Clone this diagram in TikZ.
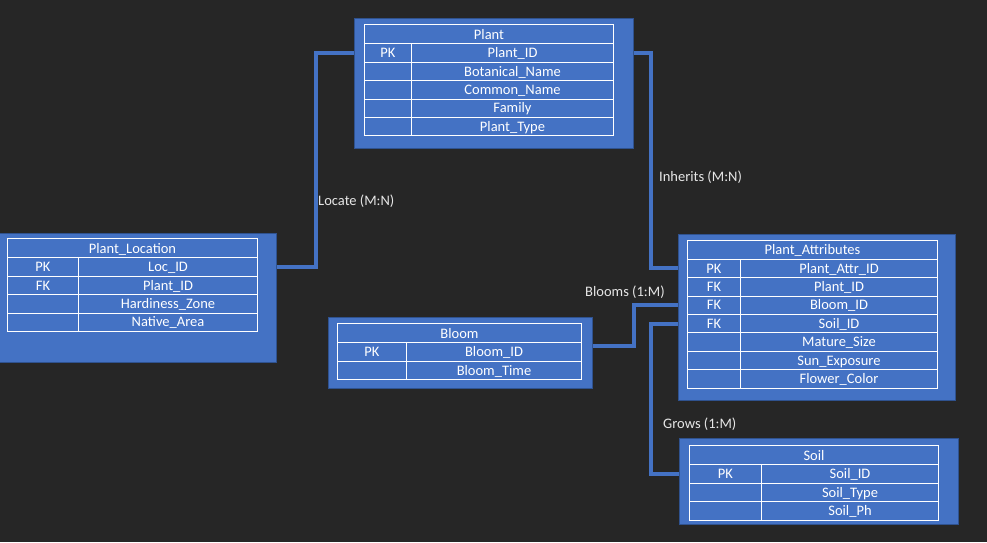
\documentclass[tikz,border=0pt]{standalone}
\usepackage{fontspec}
\setmainfont{Carlito}
\usetikzlibrary{positioning}
\definecolor{erblue}{HTML}{4472C4}
\definecolor{erline}{HTML}{2F528F}
\definecolor{erdark}{HTML}{262626}
\definecolor{ertext}{HTML}{E6E6E6}

\tikzset{
  entbox/.style={fill=erblue, draw=erline, line width=1pt, inner sep=0pt, anchor=north west},
  cell/.style={draw=white, line width=1pt, text=white, inner sep=0pt, anchor=north west,
    font=\fontsize{14.5}{17}\selectfont, text height=12pt, text depth=2.5pt},
  rel/.style={draw=erblue, line width=4pt},
  rellabel/.style={text=ertext, font=\fontsize{14.5}{17}\selectfont, inner sep=0pt, anchor=west}
}

% #1 name, #2 left, #3 top, #4 key column edge, #5 right, #6 title, #7 key/field rows
\newcommand{\ertable}[7]{%
  \node[cell, minimum width={#5-#2}, minimum height=19] (#1-head) at (#2,#3) {#6};
  \foreach \k/\f [count=\r] in {#7}{
    \node[cell, minimum width={#4-#2}, minimum height=18.4] (#1-k\r) at (#2,{#3+19+(\r-1)*18.4}) {\k};
    \node[cell, minimum width={#5-#4}, minimum height=18.4] (#1-f\r) at (#4,{#3+19+(\r-1)*18.4}) {\f};
  }
}

\begin{document}
\begin{tikzpicture}[x=1pt, y=-1pt]
  \fill[erdark] (0,0) rectangle (987,542);
  \useasboundingbox (0,0) rectangle (987,542);

  % entity boxes
  \node[entbox, minimum width=278.5, minimum height=130] (plant) at (354,18) {};
  \node[entbox, minimum width=277.5, minimum height=129] (loc) at (-2,233) {};
  \node[entbox, minimum width=264, minimum height=71] (bloom) at (328,317) {};
  \node[entbox, minimum width=277.5, minimum height=166] (attr) at (677.5,234) {};
  \node[entbox, minimum width=278.5, minimum height=86] (soil) at (679,438) {};

  % tables
  \ertable{plant}{364}{24.3}{411}{613}{Plant}{PK/Plant\_ID, /Botanical\_Name, /Common\_Name, /Family, /Plant\_Type}
  \ertable{loc}{7}{238.3}{78}{257}{Plant\_Location}{PK/Loc\_ID, FK/Plant\_ID, /Hardiness\_Zone, /Native\_Area}
  \ertable{bloom}{337}{323.3}{406}{581}{Bloom}{PK/Bloom\_ID, /Bloom\_Time}
  \ertable{attr}{687}{239.7}{740}{937}{Plant\_Attributes}{PK/Plant\_Attr\_ID, FK/Plant\_ID, FK/Bloom\_ID, FK/Soil\_ID, /Mature\_Size, /Sun\_Exposure, /Flower\_Color}
  \ertable{soil}{689}{445.3}{761}{938}{Soil}{PK/Soil\_ID, /Soil\_Type, /Soil\_Ph}

  % relationships
  \draw[rel] (loc.east |- loc-k1) -- ++(39,0) |- (plant.west |- plant-k1);
  \draw[rel] (plant.east |- plant-k1) -- ++(17,0) |- (attr.west |- attr-k1);
  \draw[rel] (bloom.east |- 0,345.5) -- ++(41,0) |- (attr.west |- attr-k3);
  \draw[rel] (soil.west |- soil-k1) -- ++(-28,0) |- (attr.west |- attr-k4);

  \node[rellabel] (locate) at (318,201) {Locate (M:N)};
  \node[rellabel] (inherits) at (659,177) {Inherits (M:N)};
  \node[rellabel] (blooms) at (585,292) {Blooms (1:M)};
  \node[rellabel] (grows) at (663,424) {Grows (1:M)};
\end{tikzpicture}
\end{document}
